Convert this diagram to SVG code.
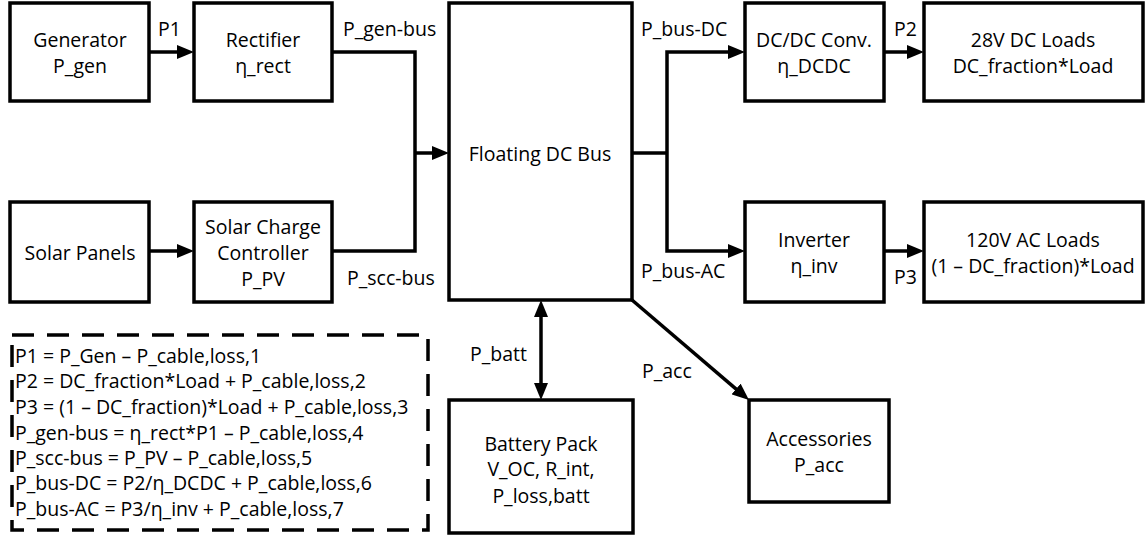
<svg xmlns="http://www.w3.org/2000/svg" width="1146" height="541" viewBox="0 0 1146 541">
<style>
.box{fill:#fff;stroke:#000;stroke-width:3.5}
.t{font-family:"Open Sans","Liberation Sans",sans-serif;font-size:19.5px;fill:#000;text-anchor:middle;dominant-baseline:central}
.l{font-family:"Open Sans","Liberation Sans",sans-serif;font-size:19.5px;fill:#000;dominant-baseline:central}
.c{fill:none;stroke:#000;stroke-width:3.5}
</style>
<defs>
<marker id="ah" markerUnits="userSpaceOnUse" markerWidth="17" markerHeight="14" refX="9" refY="7" orient="auto-start-reverse" viewBox="0 0 17 14">
<path d="M0,0 L17,7 L0,14 z" fill="#000"/>
</marker>
</defs>
<rect width="1146" height="541" fill="#fff"/>
<g id="connectors">
<path class="c" d="M149,52 H186" marker-end="url(#ah)"/>
<path class="c" d="M332,52 H415 V251 H332"/>
<path class="c" d="M415,153 H441" marker-end="url(#ah)"/>
<path class="c" d="M149,251 H186" marker-end="url(#ah)"/>
<path class="c" d="M632,153 H667"/>
<path class="c" d="M737,52 H667 V251 H737"/>
<path class="c" d="M730,52 H737" marker-end="url(#ah)"/>
<path class="c" d="M730,251 H737" marker-end="url(#ah)"/>
<path class="c" d="M884,52 H916" marker-end="url(#ah)"/>
<path class="c" d="M884,251 H916" marker-end="url(#ah)"/>
<path class="c" d="M541,308 V392" marker-start="url(#ah)" marker-end="url(#ah)"/>
<path class="c" d="M632,300 L742.9,394.8" marker-end="url(#ah)"/>
<text class="l" x="158" y="28">P1</text>
<text class="l" x="343" y="28">P_gen-bus</text>
<text class="l" x="347" y="277">P_scc-bus</text>
<text class="l" x="641" y="28">P_bus-DC</text>
<text class="l" x="641" y="270">P_bus-AC</text>
<text class="l" x="894" y="28">P2</text>
<text class="l" x="894" y="276">P3</text>
<text class="l" x="470" y="353">P_batt</text>
<text class="l" x="642" y="370">P_acc</text>
</g>
<g id="generator"><rect class="box" x="10" y="3" width="139" height="98"/><text class="t" x="80" y="39">Generator</text><text class="t" x="80" y="65">P_gen</text></g>
<g id="rectifier"><rect class="box" x="194" y="3" width="138" height="98"/><text class="t" x="263" y="39">Rectifier</text><text class="t" x="263" y="65">η_rect</text></g>
<g id="solar-panels"><rect class="box" x="10" y="202" width="139" height="100"/><text class="t" x="80" y="252">Solar Panels</text></g>
<g id="scc"><rect class="box" x="194" y="202" width="138" height="100"/><text class="t" x="263" y="226">Solar Charge</text><text class="t" x="263" y="252">Controller</text><text class="t" x="263" y="278">P_PV</text></g>
<g id="bus"><rect class="box" x="449" y="3" width="183" height="297"/><text class="t" x="540" y="153">Floating DC Bus</text></g>
<g id="dcdc"><rect class="box" x="745" y="3" width="139" height="98"/><text class="t" x="814" y="39">DC/DC Conv.</text><text class="t" x="814" y="65">η_DCDC</text></g>
<g id="dc-loads"><rect class="box" x="924" y="3" width="219" height="98"/><text class="t" x="1033" y="39">28V DC Loads</text><text class="t" x="1033" y="65">DC_fraction*Load</text></g>
<g id="inverter"><rect class="box" x="745" y="202" width="139" height="100"/><text class="t" x="814" y="239">Inverter</text><text class="t" x="814" y="265">η_inv</text></g>
<g id="ac-loads"><rect class="box" x="924" y="202" width="219" height="100"/><text class="t" x="1033" y="239">120V AC Loads</text><text class="t" x="1033" y="265">(1 – DC_fraction)*Load</text></g>
<g id="battery"><rect class="box" x="449" y="400" width="184" height="133"/><text class="t" x="541" y="443">Battery Pack</text><text class="t" x="541" y="468">V_OC, R_int,</text><text class="t" x="541" y="495">P_loss,batt</text></g>
<g id="accessories"><rect class="box" x="749" y="400" width="140" height="102"/><text class="t" x="819" y="438">Accessories</text><text class="t" x="819" y="464">P_acc</text></g>
<g id="equations">
<rect x="12" y="335" width="416" height="195" fill="none" stroke="#000" stroke-width="3.5" stroke-dasharray="22 13"/>
<text class="l" x="15" y="355">P1 = P_Gen – P_cable,loss,1</text>
<text class="l" x="15" y="380">P2 = DC_fraction*Load + P_cable,loss,2</text>
<text class="l" x="15" y="406">P3 = (1 – DC_fraction)*Load + P_cable,loss,3</text>
<text class="l" x="15" y="432">P_gen-bus = η_rect*P1 – P_cable,loss,4</text>
<text class="l" x="15" y="457">P_scc-bus = P_PV – P_cable,loss,5</text>
<text class="l" x="15" y="482">P_bus-DC = P2/η_DCDC + P_cable,loss,6</text>
<text class="l" x="15" y="508">P_bus-AC = P3/η_inv + P_cable,loss,7</text>
</g>
</svg>
